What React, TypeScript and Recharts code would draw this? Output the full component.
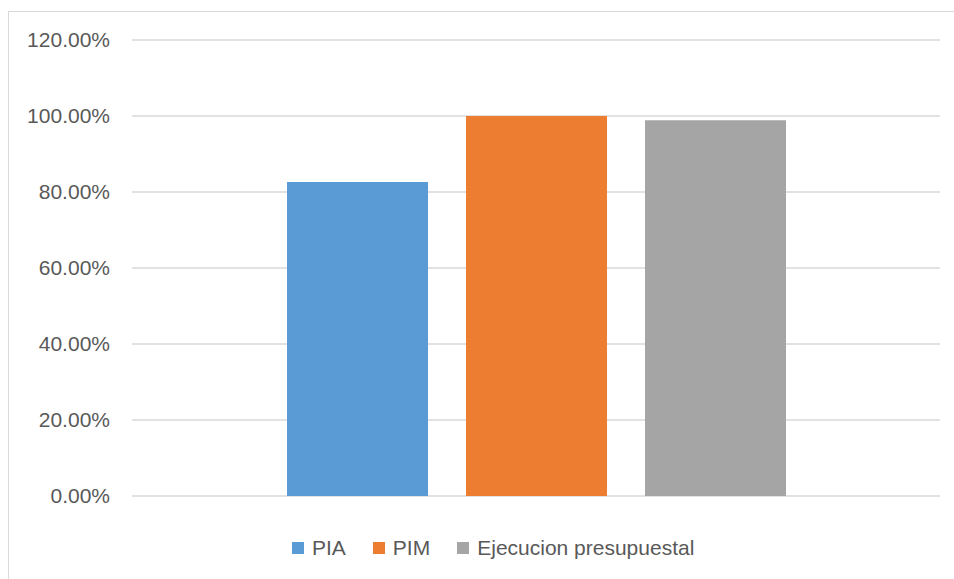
import { BarChart, Bar, XAxis, YAxis, CartesianGrid, Legend } from "recharts";

const categories = [""];
const piaValues = [82.6];
const pimValues = [100];
const ejecucionValues = [98.9];
const yTicks = [0, 20, 40, 60, 80, 100, 120];

const data = categories.map((name, i) => ({
  name,
  PIA: piaValues[i],
  PIM: pimValues[i],
  "Ejecucion presupuestal": ejecucionValues[i],
}));

const series = [
  { key: "PIA", color: "#5B9BD5" },
  { key: "PIM", color: "#ED7D31" },
  { key: "Ejecucion presupuestal", color: "#A5A5A5" },
];
const seriesOrder = series.map((s) => s.key);

const FONT = "'Liberation Sans', Arial, sans-serif";
const TEXT = "#595959";

function LegendContent(props: any) {
  const items = [...(props.payload || [])].sort(
    (a: any, b: any) => seriesOrder.indexOf(a.value) - seriesOrder.indexOf(b.value)
  );
  return (
    <div style={{ display: "flex", alignItems: "center", fontFamily: FONT, fontSize: 21, color: TEXT }}>
      {items.map((it: any, i: number) => (
        <div key={it.value} style={{ display: "flex", alignItems: "center", marginLeft: i === 0 ? 0 : 27 }}>
          <span style={{ width: 12, height: 12, background: it.color, display: "inline-block", marginRight: 8 }} />
          <span>{it.value}</span>
        </div>
      ))}
    </div>
  );
}

export default function App() {
  return (
    <div
      style={{
        position: "absolute",
        left: 8,
        top: 11,
        width: 946,
        height: 568,
        borderLeft: "1px solid #d9d9d9",
        borderTop: "1px solid #d9d9d9",
        background: "#fff",
        overflow: "hidden",
      }}
    >
      <BarChart
        width={945}
        height={567}
        data={data}
        margin={{ top: 28, right: 14, left: 0, bottom: 83 }}
        barCategoryGap={155}
        barGap={38}
      >
        <CartesianGrid vertical={false} stroke="#d9d9d9" strokeWidth={1.3} />
        <XAxis dataKey="name" hide />
        <YAxis
          width={123}
          domain={[0, 120]}
          ticks={yTicks}
          interval={0}
          axisLine={false}
          tickLine={false}
          tickSize={0}
          tickMargin={22}
          tick={{ fill: TEXT, fontSize: 21, fontFamily: FONT }}
          tickFormatter={(v: number) => `${v.toFixed(2)}%`}
        />
        <Legend
          layout="horizontal"
          verticalAlign="middle"
          align="center"
          content={LegendContent}
          wrapperStyle={{ left: 283, top: 524, width: "auto", height: "auto" }}
        />
        {series.map((s) => (
          <Bar key={s.key} dataKey={s.key} fill={s.color} isAnimationActive={false} />
        ))}
      </BarChart>
    </div>
  );
}
